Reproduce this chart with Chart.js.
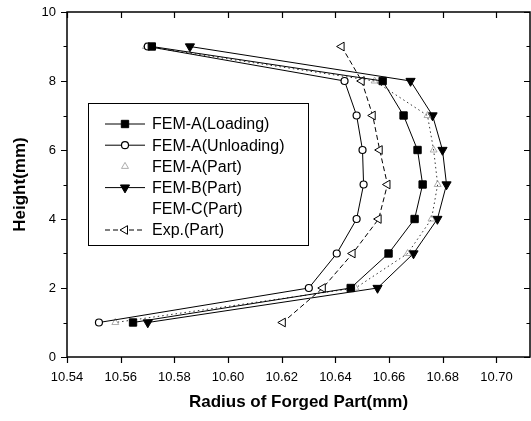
<!DOCTYPE html>
<html>
<head>
<meta charset="utf-8">
<script src="https://cdn.jsdelivr.net/npm/chart.js@4/dist/chart.umd.min.js"></script>
<style>
html,body{margin:0;padding:0;background:#fff;}
#wrap{width:531px;height:421px;}
</style>
</head>
<body>
<div id="wrap"><canvas id="c" width="531" height="421"></canvas></div>
<script>
// ---- data ----
const heights = [9, 8, 7, 6, 5, 4, 3, 2, 1];
const femALoading   = [10.5716, 10.6576, 10.6654, 10.6706, 10.6725, 10.6695, 10.6598, 10.6457, 10.5646];
const femAUnloading = [10.5701, 10.6434, 10.6479, 10.6501, 10.6505, 10.6479, 10.6405, 10.6301, 10.5519];
const femAPart      = [10.5694, 10.6546, 10.6743, 10.6766, 10.6781, 10.6758, 10.6669, 10.6475, 10.5580];
const femBPart      = [10.5858, 10.6680, 10.6762, 10.6799, 10.6814, 10.6780, 10.6691, 10.6557, 10.5701];
const femCPart      = [];
const expHeights    = [9, 8, 7, 6, 5, 4, 3, 2, 1];
const expPart       = [10.6423, 10.6498, 10.6539, 10.6565, 10.6594, 10.6561, 10.6464, 10.6353, 10.6204];
const seriesNames = ['FEM-A(Loading)', 'FEM-A(Unloading)', 'FEM-A(Part)', 'FEM-B(Part)', 'FEM-C(Part)', 'Exp.(Part)'];
const xTicks = [10.54, 10.56, 10.58, 10.60, 10.62, 10.64, 10.66, 10.68, 10.70];
const yTicks = [0, 2, 4, 6, 8, 10];
const yMinorTicks = [1, 3, 5, 7, 9];
const xTitle = 'Radius of Forged Part(mm)';
const yTitle = 'Height(mm)';

function pts(xs, ys) { return xs.map((v, i) => ({x: v, y: ys[i]})); }

const FONT = '"Liberation Sans", Arial, Helvetica, sans-serif';

const datasets = [
  {label: seriesNames[0], data: pts(femALoading, heights), borderColor: '#000', backgroundColor: '#000',
   borderWidth: 1, pointStyle: 'rect', pointRadius: 5.2, pointBorderWidth: 1, showLine: true},
  {label: seriesNames[1], data: pts(femAUnloading, heights), borderColor: '#000', backgroundColor: '#fff',
   borderWidth: 1, pointStyle: 'circle', pointRadius: 3.5, pointBorderWidth: 1.2, showLine: true},
  {label: seriesNames[2], data: pts(femAPart, heights), borderColor: '#333', backgroundColor: 'rgba(0,0,0,0)',
   pointBorderColor: '#999', borderWidth: 1, borderDash: [1.5, 3], pointStyle: 'triangle', pointRadius: 4,
   pointBorderWidth: 0.8, showLine: true},
  {label: seriesNames[3], data: pts(femBPart, heights), borderColor: '#000', backgroundColor: '#000',
   borderWidth: 1, pointStyle: 'triangle', pointRotation: 180, pointRadius: 5.3, pointBorderWidth: 1, showLine: true},
  {label: seriesNames[4], data: pts(femCPart, heights), borderColor: 'rgba(0,0,0,0)', backgroundColor: 'rgba(0,0,0,0)',
   borderWidth: 0, pointRadius: 0, showLine: false, noSymbol: true},
  {label: seriesNames[5], data: pts(expPart, expHeights), borderColor: '#000', backgroundColor: '#fff',
   borderWidth: 1, borderDash: [5, 3], pointStyle: 'triangle', pointRotation: 270, pointRadius: 5,
   pointBorderWidth: 1, showLine: true}
];

// stretch the plot area to the right edge as in the reference
const areaPlugin = {
  id: 'area',
  afterLayout(chart) {
    const x = chart.scales.x, a = chart.chartArea;
    x.right = chart.width - 1;
    x.width = x.right - x.left;
    x.configure();
    a.right = x.right;
    a.width = a.right - a.left;
  }
};

const framePlugin = {
  id: 'frame',
  afterDraw(chart) {
    const ctx = chart.ctx;
    const a = chart.chartArea;
    const xs = chart.scales.x, ys = chart.scales.y;
    ctx.save();
    ctx.strokeStyle = '#000';
    ctx.lineWidth = 1.5;
    ctx.strokeRect(a.left, a.top, a.right - a.left, a.bottom - a.top);
    ctx.lineWidth = 1.2;
    ctx.beginPath();
    xTicks.forEach(v => {
      const px = Math.round(xs.getPixelForValue(v)) + 0.5;
      ctx.moveTo(px, a.bottom); ctx.lineTo(px, a.bottom + 6);
      ctx.moveTo(px, a.top); ctx.lineTo(px, a.top + 6);
    });
    yTicks.forEach(v => {
      const py = Math.round(ys.getPixelForValue(v)) + 0.5;
      ctx.moveTo(a.left - 6, py); ctx.lineTo(a.left, py);
      ctx.moveTo(a.right - 6, py); ctx.lineTo(a.right, py);
    });
    yMinorTicks.forEach(v => {
      const py = Math.round(ys.getPixelForValue(v)) + 0.5;
      ctx.moveTo(a.left - 3.5, py); ctx.lineTo(a.left, py);
      ctx.moveTo(a.right - 3.5, py); ctx.lineTo(a.right, py);
    });
    ctx.stroke();

    // legend box
    const bx = a.left + 21, by = a.top + 91, bw = 220, bh = 142;
    ctx.lineWidth = 1;
    ctx.strokeRect(bx + 0.5, by + 0.5, bw, bh);
    ctx.font = '16px ' + FONT;
    ctx.textBaseline = 'middle';
    ctx.fillStyle = '#000';
    chart.data.datasets.forEach((ds, i) => {
      const ry = by + 21 + i * 21.2;
      const lx0 = bx + 17, lx1 = bx + 57, mx = bx + 37;
      if (!ds.noSymbol) {
        if (i !== 2) {
          ctx.save();
          ctx.strokeStyle = ds.borderColor;
          ctx.lineWidth = ds.borderWidth;
          ctx.setLineDash(ds.borderDash || []);
          ctx.beginPath();
          ctx.moveTo(lx0, ry); ctx.lineTo(lx1, ry);
          ctx.stroke();
          ctx.restore();
        }
        ctx.save();
        ctx.strokeStyle = ds.pointBorderColor || ds.borderColor;
        ctx.fillStyle = ds.backgroundColor;
        ctx.lineWidth = ds.pointBorderWidth;
        Chart.helpers.drawPoint(ctx, {pointStyle: ds.pointStyle, rotation: ds.pointRotation || 0,
          radius: ds.pointRadius, borderWidth: ds.pointBorderWidth}, mx, ry);
        ctx.restore();
      }
      ctx.fillStyle = '#000';
      ctx.fillText(ds.label, bx + 64, ry + 1);
    });
    ctx.restore();
  }
};

function zeroPad(s) { s.paddingTop = 0; s.paddingBottom = 0; s.paddingLeft = 0; s.paddingRight = 0; }

new Chart(document.getElementById('c'), {
  type: 'scatter',
  data: {datasets},
  plugins: [areaPlugin, framePlugin],
  options: {
    responsive: false,
    animation: false,
    devicePixelRatio: 1,
    layout: {padding: {top: 12, right: 1, left: 0, bottom: 0}},
    plugins: {legend: {display: false}, tooltip: {enabled: false}},
    scales: {
      x: {
        type: 'linear', min: 10.54, max: 10.7125,
        afterFit(s) { s.height = 64; zeroPad(s); },
        afterBuildTicks(s) { s.ticks = xTicks.map(v => ({value: v})); },
        grid: {display: false, drawTicks: false, tickLength: 0},
        border: {display: false},
        ticks: {color: '#000', padding: 13, font: {size: 13, family: FONT},
                callback: v => Number(v).toFixed(2), maxRotation: 0, autoSkip: false},
        title: {display: true, text: xTitle, color: '#000', font: {size: 17, weight: 'bold', family: FONT},
                padding: {top: 4, bottom: 8}}
      },
      y: {
        type: 'linear', min: 0, max: 10,
        afterFit(s) { s.width = 67; zeroPad(s); },
        afterBuildTicks(s) { s.ticks = yTicks.map(v => ({value: v})); },
        grid: {display: false, drawTicks: false, tickLength: 0},
        border: {display: false},
        ticks: {color: '#000', padding: 11, font: {size: 13, family: FONT}},
        title: {display: true, text: yTitle, color: '#000', font: {size: 17, weight: 'bold', family: FONT},
                padding: {top: 10, bottom: 0}}
      }
    }
  }
});
</script>
</body>
</html>
